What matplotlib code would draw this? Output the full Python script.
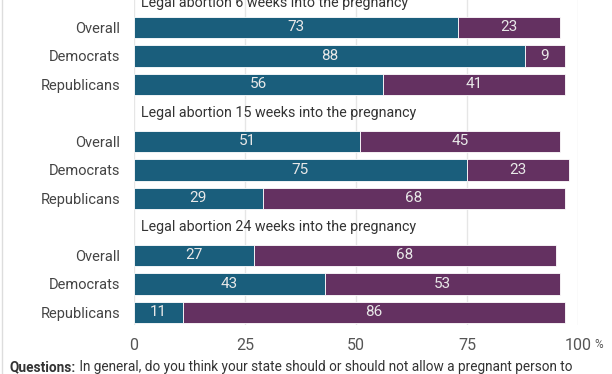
import matplotlib.pyplot as plt
from matplotlib.lines import Line2D

plt.rcParams['font.family'] = ['Roboto', 'DejaVu Sans']

# data
groups = ['Legal abortion 6 weeks into the pregnancy',
          'Legal abortion 15 weeks into the pregnancy',
          'Legal abortion 24 weeks into the pregnancy']
categories = ['Overall', 'Democrats', 'Republicans']
should_allow = [[73, 88, 56], [51, 75, 29], [27, 43, 11]]
should_not = [[23, 9, 41], [45, 23, 68], [68, 53, 86]]
ticks = [0, 25, 50, 75, 100]
note_head = 'Questions:'
note_body = ' In general, do you think your state should or should not allow a pregnant person to'

teal = '#1a5e7c'
purple = '#643161'
label_col = '#e8e8e8'

fig = plt.figure(figsize=(6.12, 3.74), dpi=100)
ax = fig.add_axes([134 / 612, 1 - 325 / 374, (578 - 134) / 612, 325 / 374])

ypos = []
ylabels = []
for g, title in enumerate(groups):
    base = g * 4
    ty = base + (0.13 if g == 0 else 0.0)
    ax.text(1.6, ty, title, fontsize=10.25, color='#333333', va='center', ha='left')
    for i, cat in enumerate(categories):
        y = base + 1 + i
        a = should_allow[g][i]
        b = should_not[g][i]
        ax.barh(y, a, height=0.76, color=teal, edgecolor='white', linewidth=0.6, zorder=2)
        ax.barh(y, b, left=a, height=0.76, color=purple, edgecolor='white', linewidth=0.6, zorder=2)
        ax.text(a / 2, y, str(a), color=label_col, fontsize=11, ha='center', va='center', zorder=3)
        ax.text(a + b / 2, y, str(b), color=label_col, fontsize=11, ha='center', va='center', zorder=3)
        ypos.append(y)
        ylabels.append(cat)

ax.set_xlim(0, 100)
ax.set_ylim(11.44, 0.035)
ax.set_xticks(ticks)
ax.set_xticklabels([str(t) for t in ticks])
ax.set_yticks(ypos)
ax.set_yticklabels(ylabels)
ax.tick_params(axis='y', length=0, pad=10, labelsize=10.5, labelcolor='#444444')
ax.tick_params(axis='x', length=0, pad=9.5, labelsize=11.5, labelcolor='#555555')
ax.grid(axis='x', color='#e6e6e6', linewidth=1, zorder=0)
for s in ax.spines.values():
    s.set_visible(False)

ax.annotate('%', xy=(100, 0), xycoords=('data', 'axes fraction'), xytext=(12, -14),
            textcoords='offset points', fontsize=8.5, color='#555555', ha='left', va='center')

fig.add_artist(Line2D([2 / 612, 2 / 612], [0, 1], color='#dddddd', linewidth=1))

# footnote: bold head, regular body right after it
ny = 1 - 360 / 374
head = fig.text(10 / 612, ny, note_head, fontsize=9.8, fontweight='bold', color='#333333', va='top')
fig.canvas.draw()
bb = head.get_window_extent(renderer=fig.canvas.get_renderer())
fig.text(bb.x1 / fig.bbox.width, ny, note_body, fontsize=9.8, color='#333333', va='top')

fig.savefig('out.png', dpi=100)
